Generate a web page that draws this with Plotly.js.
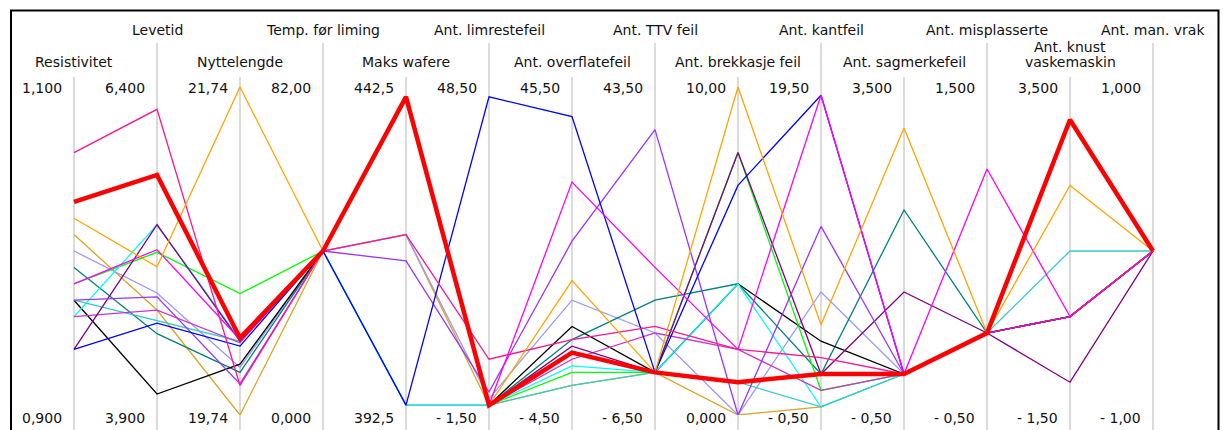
<!DOCTYPE html>
<html>
<head>
<meta charset="utf-8">
<script src="https://cdn.plot.ly/plotly-3.0.1.min.js"></script>
<style>
  html, body { margin: 0; padding: 0; background: #ffffff; }
  #chart { width: 1223px; height: 430px; }
</style>
</head>
<body>
<div id="chart"></div>
<script>
// ---- Dimensions (parallel axes) ----
const dimensions = ["Resistivitet", "Levetid", "Nyttelengde", "Temp. før liming", "Maks wafere",
  "Ant. limrestefeil", "Ant. overflatefeil", "Ant. TTV feil", "Ant. brekkasje feil", "Ant. kantfeil",
  "Ant. sagmerkefeil", "Ant. misplasserte", "Ant. knust<br>vaskemaskin", "Ant. man. vrak"];
const rangeMin = [0.9, 3.9, 19.74, 0, 392.5, -1.5, -4.5, -6.5, 0, -0.5, -0.5, -0.5, -1.5, -1];
const rangeMax = [1.1, 6.4, 21.74, 82, 442.5, 48.5, 45.5, 43.5, 10, 19.5, 3.5, 1.5, 3.5, 1];
const topLabels = ["1,100", "6,400", "21,74", "82,00", "442,5", "48,50", "45,50", "43,50", "10,00", "19,50", "3,500", "1,500", "3,500", "1,000"];
const bottomLabels = ["0,900", "3,900", "19,74", "0,000", "392,5", "- 1,50", "- 4,50", "- 6,50", "0,000", "- 0,50", "- 0,50", "- 0,50", "- 1,50", "- 1,00"];

// ---- Series (one value per dimension) ----
const lineGold      = [1.01, 4.70, 19.74, 41, 420, 0, 0, 0, 0, 0, 0, 0, 0, 0];
const lineLavender  = [1.00, 4.83, 20.03, 41, 420, 1, 13, 6, 0, 7, 0, 0, 0, 0];
const lineTeal      = [0.99, 4.52, 20.00, 41, 441, 0, 7, 11, 4, 2, 2, 0, 0, 0];
const lineBlack     = [0.97, 4.06, 20.05, 41, 441, 0, 9, 0, 4, 4, 0, 0, 0, 0];
const lineGreen     = [0.98, 5.14, 20.48, 41, 441, 0, 2, 0, 8, 1, 0, 0, 0, 0];
const lineCyan      = [0.96, 5.35, 20.20, 41, 394, 0, 3, 0, 4, 0, 0, 0, 0, 0];
const lineTurquoise = [0.97, 4.62, 20.19, 41, 394, 0, 0, 0, 1, 0, 0, 0, 1, 0];
const lineOrchid    = [0.96, 4.70, 20.18, 41, 441, 0, 4, 6, 2, 1, 0, 0, 0, 0];
const linePurple    = [0.94, 5.35, 20.19, 41, 441, 0, 6, 0, 8, 2, 1, 0, -1, 0];
const lineViolet    = [0.97, 4.80, 19.93, 41, 416, 2, 22, 37, 0, 11, 0, 0, 0, 0];
const lineBlue      = [0.94, 4.60, 20.16, 41, 394, 47, 41, 0, 7, 19, 0, 0, 0, 0];
const lineMagenta   = [0.98, 5.16, 20.20, 41, 441, 0, 31, 16, 2, 19, 0, 1, 0, 0];
const linePink      = [1.06, 6.23, 19.92, 41, 420, 7, 7, 7, 2, 3, 0, 0, 0, 0];
const lineOrange    = [1.02, 5.03, 21.74, 41, 441, 0, 16, 0, 10, 5, 3, 0, 2, 0];
const lineRed       = [1.03, 5.73, 20.21, 41, 441, 0, 5, 0, 1, 2, 0, 0, 3, 0];

const seriesList = [
  {v: lineGold,      color: "#DAA520", w: 1.3},
  {v: lineLavender,  color: "#9999FF", w: 1.3},
  {v: lineTeal,      color: "#008080", w: 1.3},
  {v: lineBlack,     color: "#000000", w: 1.3},
  {v: lineGreen,     color: "#00FF00", w: 1.3},
  {v: lineCyan,      color: "#00FFFF", w: 1.3},
  {v: lineTurquoise, color: "#33CCCC", w: 1.3},
  {v: lineOrchid,    color: "#CC33CC", w: 1.3},
  {v: linePurple,    color: "#800080", w: 1.3},
  {v: lineViolet,    color: "#9933FF", w: 1.3},
  {v: lineBlue,      color: "#0000FF", w: 1.3},
  {v: lineMagenta,   color: "#FF00FF", w: 1.3},
  {v: linePink,      color: "#FF1493", w: 1.3},
  {v: lineOrange,    color: "#FFA500", w: 1.3},
  {v: lineRed,       color: "#FF0000", w: 4.5}
];

const idx = dimensions.map((_, i) => i);
const norm = (vals) => vals.map((v, i) => (v - rangeMin[i]) / (rangeMax[i] - rangeMin[i]));

const traces = seriesList.map(s => ({
  type: "scatter", mode: "lines",
  x: idx, y: norm(s.v),
  line: {color: s.color, width: s.w},
  hoverinfo: "skip", cliponaxis: false, showlegend: false
}));

// pixel helpers for layout (plot area spans y 87..415 px)
const H = 430, TOP = 87, BOT = 415;
const py = (p) => (BOT - p) / (BOT - TOP);

const shapes = [];
const annotations = [];
const font = {family: "DejaVu Sans, Verdana, sans-serif", size: 14, color: "#111111"};

idx.forEach(i => {
  const odd = i % 2 === 1;
  shapes.push({type: "line", layer: "below", xref: "x", yref: "paper",
    x0: i, x1: i, y0: py(440), y1: py(odd ? 43 : 77),
    line: {color: "#CFCFCF", width: 1.5}});
  const parts = dimensions[i].split("<br>");
  const baseY = odd ? 30 : 62;
  parts.forEach((t, k) => {
    annotations.push({xref: "x", yref: "paper", x: i, y: py(baseY - (parts.length - 1 - k) * 15),
      text: t, showarrow: false, xanchor: "center", yanchor: "middle", font: font});
  });
  annotations.push({xref: "x", yref: "paper", x: i, xshift: -10, y: py(88),
    text: topLabels[i], showarrow: false, xanchor: "right", yanchor: "middle", font: font});
  annotations.push({xref: "x", yref: "paper", x: i, xshift: -10, y: py(418),
    text: bottomLabels[i], showarrow: false, xanchor: "right", yanchor: "middle", font: font});
});

// outer frame
shapes.push({type: "rect", xref: "paper", yref: "paper",
  x0: 11 / 1223, x1: 1218.5 / 1223, y0: py(445), y1: py(10.5),
  line: {color: "#000000", width: 2}, fillcolor: "rgba(0,0,0,0)"});

const layout = {
  width: 1223, height: H,
  margin: {l: 0, r: 0, t: TOP, b: H - BOT, pad: 0},
  paper_bgcolor: "#ffffff", plot_bgcolor: "#ffffff",
  showlegend: false,
  xaxis: {range: [-74 / 83, 1149 / 83], visible: false, fixedrange: true},
  yaxis: {range: [0, 1], visible: false, fixedrange: true},
  shapes: shapes,
  annotations: annotations
};

Plotly.newPlot("chart", traces, layout, {staticPlot: true, displayModeBar: false});
</script>
</body>
</html>
